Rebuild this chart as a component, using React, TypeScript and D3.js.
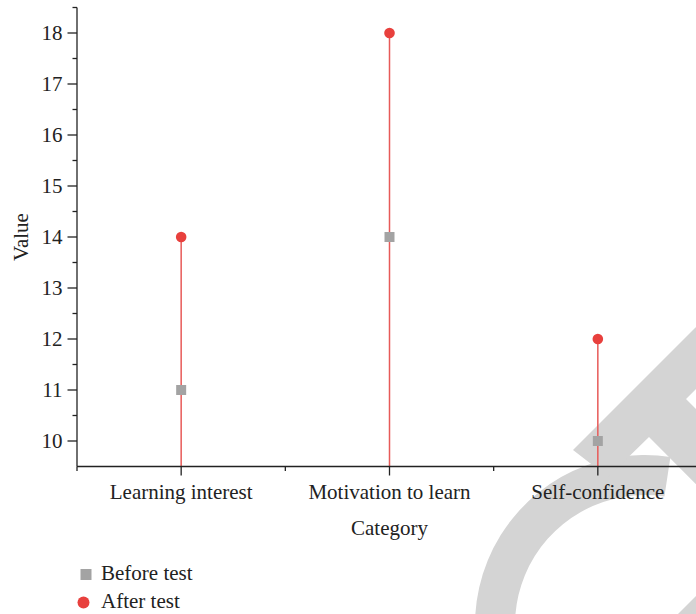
import React from "react";
import * as d3 from "d3";

const categories = ["Learning interest", "Motivation to learn", "Self-confidence"];
const beforeTest = [11, 14, 10];
const afterTest = [14, 18, 12];
const yTicks = [10, 11, 12, 13, 14, 15, 16, 17, 18];
const yMinorTicks = [10.5, 11.5, 12.5, 13.5, 14.5, 15.5, 16.5, 17.5, 18.5];
const legendLabels = ["Before test", "After test"];

const W = 696;
const H = 614;
const FONT = "'Liberation Serif', 'Times New Roman', serif";
const RED = "#e8403d";
const LINE_RED = "#e75a58";
const GRAY = "#a3a3a3";
const WM = "#d4d4d4";
const FS = 21;

export default function App() {
  const left = 77;
  const bottomY = 466.5;
  const x = d3.scaleBand<string>().domain(categories).range([left, 702]);
  const y = d3.scaleLinear().domain([9.5, 18.5]).range([bottomY, 7.5]);
  const cx = (c: string) => (x(c) as number) + x.bandwidth() / 2;
  const bounds = [left, ...categories.map((c) => (x(c) as number) + x.bandwidth())];

  const ring = d3.arc()({
    innerRadius: 130,
    outerRadius: 170,
    startAngle: -Math.PI * 0.8,
    endAngle: 0.15,
  } as any) as string;

  const band = [
    [573, 450], [780, 243], [811, 274], [686, 399], [850, 563], [812, 601], [649, 437], [608, 477],
  ];
  const corner = [[678, 614], [696, 596], [696, 614]];
  const line = d3.line();

  return (
    <svg
      width={W}
      height={H}
      style={{ position: "absolute", left: 0, top: 0, background: "#fff" }}
      fontFamily={FONT}
    >
      <defs>
        <clipPath id="full">
          <rect x={0} y={0} width={W} height={H} />
        </clipPath>
      </defs>
      {/* watermark */}
      <g clipPath="url(#full)" fill={WM}>
        <path d={ring} transform="translate(645,625)" />
        <path d={line(band as any) + "Z"} />
        <path d={line(corner as any) + "Z"} />
      </g>

      {/* stems */}
      {categories.map((c, i) => (
        <line
          key={"s" + c}
          x1={cx(c)}
          x2={cx(c)}
          y1={bottomY}
          y2={y(afterTest[i])}
          stroke={LINE_RED}
          strokeWidth={1.5}
        />
      ))}

      {/* y axis */}
      <line x1={left} x2={left} y1={y(18.5)} y2={bottomY} stroke="#222" strokeWidth={1.3} />
      {yTicks.map((t) => (
        <g key={"yt" + t}>
          <line x1={left - 9.5} x2={left} y1={y(t)} y2={y(t)} stroke="#222" strokeWidth={1.3} />
          <text x={left - 14.5} y={y(t)} dy="0.35em" textAnchor="end" fontSize={FS} fill="#222">
            {t}
          </text>
        </g>
      ))}
      {yMinorTicks.map((t) => (
        <line key={"ym" + t} x1={left - 4.5} x2={left} y1={y(t)} y2={y(t)} stroke="#222" strokeWidth={1.3} />
      ))}
      <text
        transform={`translate(28,${(y(18.5) + bottomY) / 2}) rotate(-90)`}
        textAnchor="middle"
        fontSize={FS}
        fill="#222"
      >
        Value
      </text>

      {/* x axis */}
      <line x1={left} x2={W + 10} y1={bottomY} y2={bottomY} stroke="#222" strokeWidth={1.3} />
      {categories.map((c) => (
        <g key={"xt" + c}>
          <line x1={cx(c)} x2={cx(c)} y1={bottomY} y2={bottomY + 9} stroke="#222" strokeWidth={1.3} />
          <text x={cx(c)} y={499} textAnchor="middle" fontSize={FS} fill="#222">
            {c}
          </text>
        </g>
      ))}
      {bounds.map((b, i) => (
        <line key={"xm" + i} x1={b} x2={b} y1={bottomY} y2={bottomY + 4.5} stroke="#222" strokeWidth={1.3} />
      ))}
      <text x={cx(categories[1])} y={535} textAnchor="middle" fontSize={FS} fill="#222">
        Category
      </text>

      {/* markers */}
      {categories.map((c, i) => (
        <rect
          key={"b" + c}
          x={cx(c) - 5}
          y={y(beforeTest[i]) - 5}
          width={10}
          height={10}
          fill={GRAY}
        />
      ))}
      {categories.map((c, i) => (
        <circle key={"a" + c} cx={cx(c)} cy={y(afterTest[i])} r={5.3} fill={RED} />
      ))}

      {/* legend */}
      <rect x={80.5} y={569} width={11} height={11} fill={GRAY} />
      <text x={101} y={580} fontSize={FS} fill="#222">{legendLabels[0]}</text>
      <circle cx={83.5} cy={602.5} r={6} fill={RED} />
      <text x={101} y={607.5} fontSize={FS} fill="#222">{legendLabels[1]}</text>
    </svg>
  );
}
